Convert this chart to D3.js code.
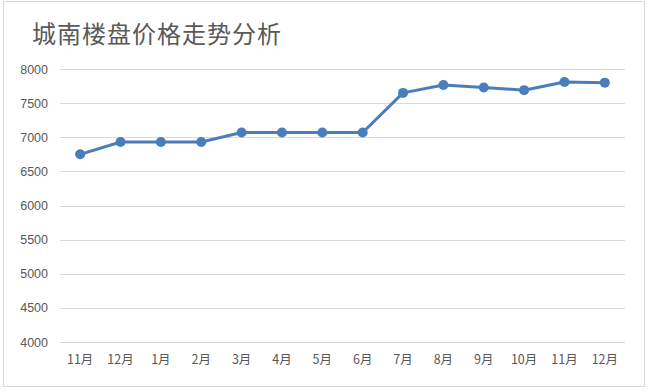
<!DOCTYPE html>
<html>
<head>
<meta charset="utf-8">
<script src="https://cdn.jsdelivr.net/npm/d3@7"></script>
<style>
  body { margin: 0; background: #fff; }
  text { font-family: "Noto Sans CJK SC", "Liberation Sans", sans-serif; }
</style>
</head>
<body>
<svg id="chart"></svg>
<script>
// chart data
var months = ["11月", "12月", "1月", "2月", "3月", "4月", "5月", "6月", "7月", "8月", "9月", "10月", "11月", "12月"];
var prices = [6750, 6930, 6930, 6930, 7070, 7070, 7070, 7070, 7650, 7765, 7730, 7690, 7810, 7800];
var yTicks = [4000, 4500, 5000, 5500, 6000, 6500, 7000, 7500, 8000];
var title = "城南楼盘价格走势分析";

var width = 650;
var height = 391;

var svg = d3.select("#chart")
    .attr("width", width)
    .attr("height", height);

// outer frame
svg.append("rect")
    .attr("x", 3.5)
    .attr("y", 1.5)
    .attr("width", 641)
    .attr("height", 385)
    .attr("fill", "#fff")
    .attr("stroke", "#d9d9d9")
    .attr("stroke-width", 1);

svg.append("text")
    .attr("x", 32)
    .attr("y", 43)
    .style("font-size", "24px")
    .style("letter-spacing", "1px")
    .style("fill", "#595959")
    .text(title);

var margin = { left: 60, right: 25, top: 69, bottom: 49 };

// x positions use index so repeated month names stay distinct
var x = d3.scaleBand()
    .domain(d3.range(months.length))
    .range([margin.left, width - margin.right]);

var y = d3.scaleLinear()
    .domain([4000, 8000])
    .range([height - margin.bottom, margin.top]);

// gridlines
svg.append("g")
    .selectAll("line")
    .data(yTicks)
    .enter().append("line")
    .attr("x1", margin.left)
    .attr("x2", width - margin.right)
    .attr("y1", function (d) { return Math.round(y(d)) + 0.5; })
    .attr("y2", function (d) { return Math.round(y(d)) + 0.5; })
    .attr("stroke", "#d9d9d9")
    .attr("stroke-width", 1);

// y axis labels
var yAxis = d3.axisLeft(y).tickValues(yTicks).tickSize(0).tickPadding(12)
    .tickFormat(d3.format("d"));
var gy = svg.append("g")
    .attr("transform", "translate(" + margin.left + ",0)")
    .call(yAxis);
gy.select(".domain").remove();
gy.selectAll("text")
    .style("font-family", "'Liberation Sans', sans-serif")
    .style("font-size", "12.5px")
    .style("fill", "#595959");

// x axis labels
var xAxis = d3.axisBottom(x).tickSize(0).tickPadding(13)
    .tickFormat(function (i) { return months[i]; });
var gx = svg.append("g")
    .attr("transform", "translate(0," + (height - margin.bottom) + ")")
    .call(xAxis);
gx.select(".domain").remove();
gx.selectAll("text")
    .style("font-size", "12.5px")
    .style("fill", "#595959");

var cx = function (d, i) { return x(i) + x.bandwidth() / 2; };

var line = d3.line()
    .x(cx)
    .y(function (d) { return y(d); });

svg.append("path")
    .datum(prices)
    .attr("d", line)
    .attr("fill", "none")
    .attr("stroke", "#4A7EBB")
    .attr("stroke-width", 3)
    .attr("stroke-linejoin", "round");

svg.append("g")
    .selectAll("circle")
    .data(prices)
    .enter().append("circle")
    .attr("cx", cx)
    .attr("cy", function (d) { return y(d); })
    .attr("r", 5)
    .attr("fill", "#4A7EBB");
</script>
</body>
</html>
